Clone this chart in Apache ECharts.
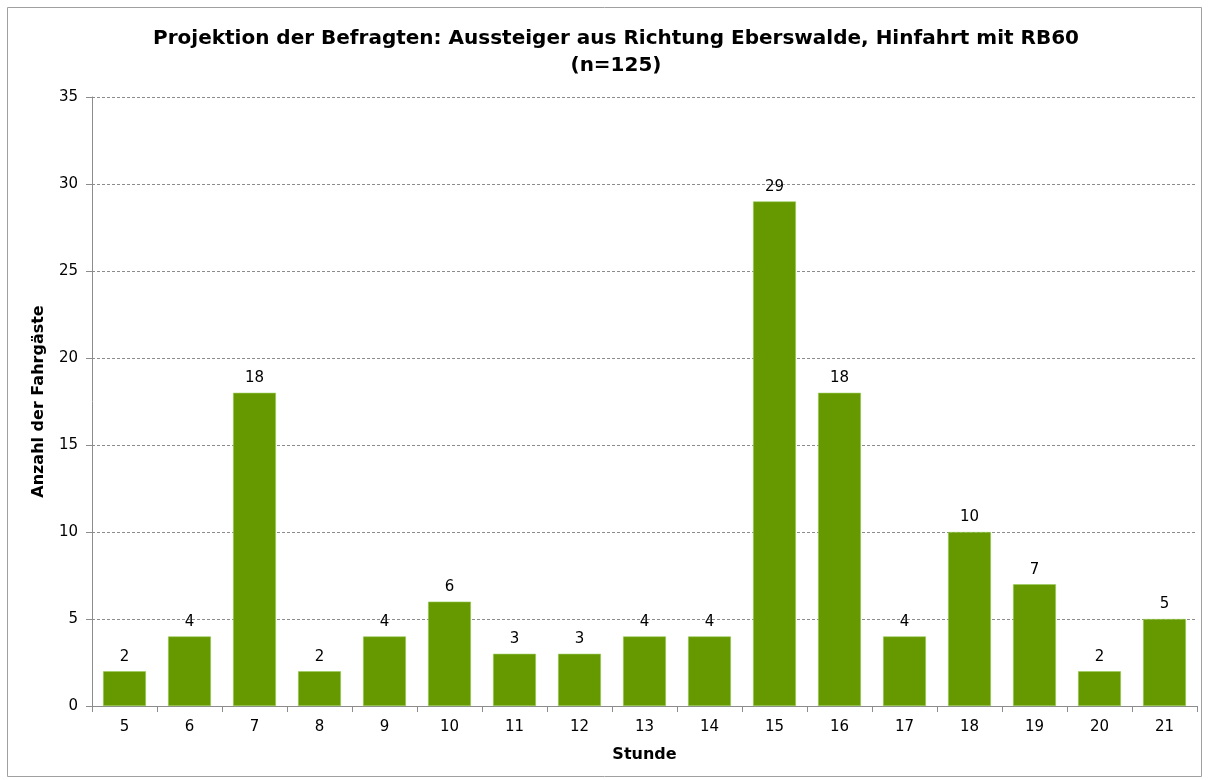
<!DOCTYPE html>
<html>
<head>
<meta charset="utf-8">
<script src="https://cdn.jsdelivr.net/npm/echarts@6/dist/echarts.min.js"></script>
<style>
  html, body { margin: 0; padding: 0; background: #fff; }
  #chart { width: 1209px; height: 780px; }
</style>
</head>
<body>
<div id="chart"></div>
<script>
// Stunden und Anzahl der Aussteiger
const hours = ['5', '6', '7', '8', '9', '10', '11', '12', '13', '14', '15', '16', '17', '18', '19', '20', '21']
const passengers = [2, 4, 18, 2, 4, 6, 3, 3, 4, 4, 29, 18, 4, 10, 7, 2, 5]

const font = 'Tahoma, "DejaVu Sans", Verdana, sans-serif'
const chart = echarts.init(document.getElementById('chart'))

chart.setOption({
  animation: false,
  textStyle: { fontFamily: font },
  title: {
    text: 'Projektion der Befragten: Aussteiger aus Richtung Eberswalde, Hinfahrt mit RB60\n(n=125)',
    left: 611,
    top: 20,
    textAlign: 'center',
    textStyle: {
      fontFamily: font,
      fontSize: 20,
      fontWeight: 'bold',
      color: '#000',
      lineHeight: 27
    }
  },
  graphic: [{
    type: 'rect',
    shape: { x: 7.5, y: 7.5, width: 1194, height: 769 },
    style: { fill: 'none', stroke: '#a0a0a0', lineWidth: 1 },
    silent: true
  }],
  grid: {
    left: 92,
    right: 12,
    top: 97,
    bottom: 74
  },
  xAxis: {
    type: 'category',
    data: hours,
    name: 'Stunde',
    nameLocation: 'middle',
    nameGap: 41,
    nameTextStyle: { fontFamily: font, fontSize: 16, fontWeight: 'bold', color: '#000' },
    axisLine: { lineStyle: { color: '#8c8c8c' } },
    axisTick: { show: true, length: 6, lineStyle: { color: '#8c8c8c' } },
    axisLabel: { fontFamily: font, fontSize: 15, color: '#000', margin: 14 }
  },
  yAxis: {
    type: 'value',
    min: 0,
    max: 35,
    interval: 5,
    name: 'Anzahl der Fahrgäste',
    nameLocation: 'middle',
    nameGap: 45,
    nameTextStyle: { fontFamily: font, fontSize: 16, fontWeight: 'bold', color: '#000' },
    axisLine: { show: true, lineStyle: { color: '#8c8c8c' } },
    axisTick: { show: true, length: 6, lineStyle: { color: '#8c8c8c' } },
    axisLabel: { fontFamily: font, fontSize: 15, color: '#000', margin: 14 },
    splitLine: { lineStyle: { color: '#8c8c8c', type: [3, 2], width: 1 } }
  },
  series: [{
    type: 'bar',
    data: passengers,
    barCategoryGap: '34%',
    itemStyle: { color: '#669900', borderColor: '#9acd5a', borderWidth: 0.6 },
    label: {
      show: true,
      position: 'top',
      distance: 7,
      fontFamily: font,
      fontSize: 15,
      color: '#000'
    }
  }]
})
</script>
</body>
</html>
